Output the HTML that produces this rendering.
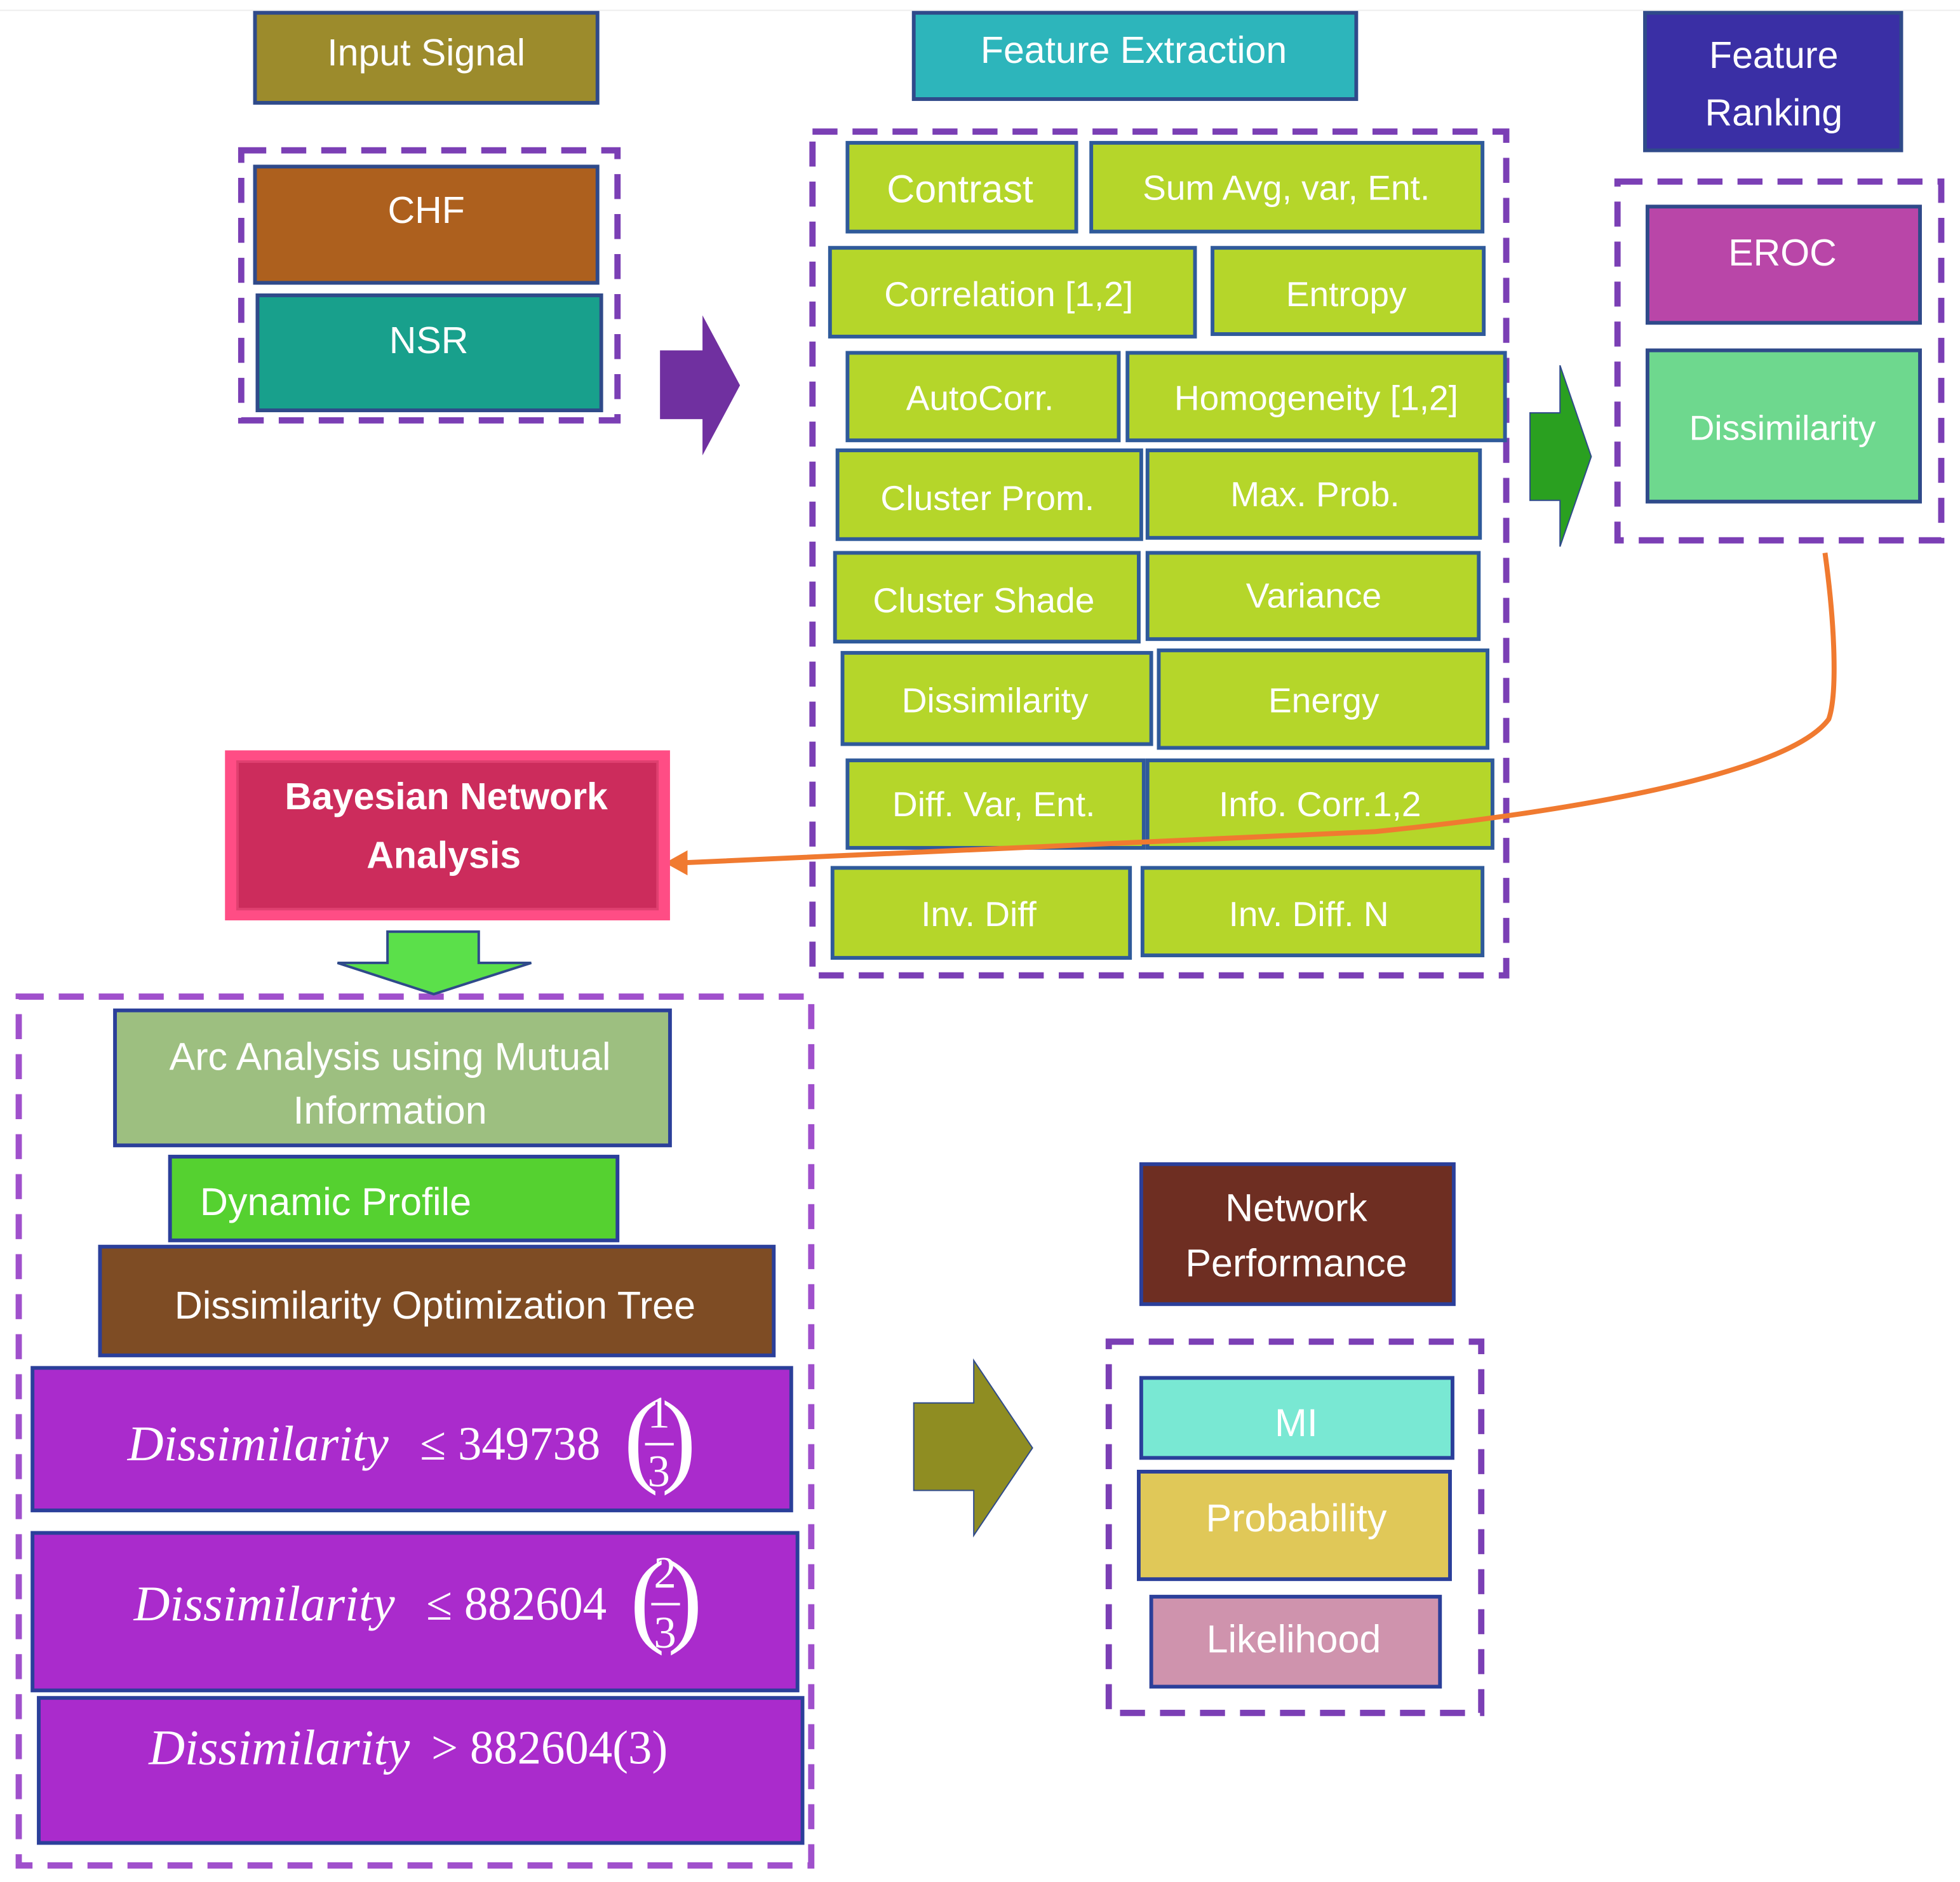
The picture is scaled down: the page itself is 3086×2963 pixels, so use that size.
<!DOCTYPE html>
<html><head><meta charset="utf-8"><style>
html,body{margin:0;padding:0;background:#fff}
svg{display:block}
text{font-family:"Liberation Sans",sans-serif;fill:#fff;text-anchor:middle;dominant-baseline:central}
.m{font-family:"Liberation Serif",serif;font-style:italic;font-size:40px;text-anchor:start}
.n{font-family:"Liberation Serif",serif;font-size:38px;text-anchor:start}
.f{font-family:"Liberation Serif",serif;font-size:36px}
.p{font-family:"Liberation Serif",serif;font-size:84px;font-weight:100}
</style></head><body>
<svg width="3086" height="2963" viewBox="0 0 1568 1505" xmlns="http://www.w3.org/2000/svg">
<line x1="0" y1="8" x2="1568" y2="8" stroke="#eee" stroke-width="1"/>
<g stroke="#2f4a8a" stroke-width="3">
<rect x="204" y="10" width="274" height="72" fill="#9c8b2c"/>
<rect x="204" y="133" width="274" height="93" fill="#ad601e"/>
<rect x="206" y="236" width="275" height="92" fill="#18a08c"/>
<rect x="731" y="10" width="354" height="69" fill="#2db5bb"/>
<rect x="1316" y="10" width="205" height="110" fill="#3a2fa5"/>
<rect x="1318" y="165" width="218" height="93" fill="#b946a8"/>
<rect x="1318" y="280" width="218" height="121" fill="#6ed88e"/>
</g>
<g fill="none" stroke="#7b3fb5" stroke-width="5" stroke-dasharray="20,12">
<rect x="193" y="120" width="301" height="216"/>
<rect x="650" y="105" width="555" height="675"/>
<rect x="1294" y="145" width="259" height="287"/>
<rect x="15" y="797" width="634" height="695" stroke="#a050cc"/>
<rect x="887" y="1073" width="298" height="297"/>
</g>
<g font-size="30">
<text x="341" y="42">Input Signal</text>
<text x="341" y="168">CHF</text>
<text x="343" y="272">NSR</text>
<text x="907" y="40">Feature Extraction</text>
<text x="1419" y="44">Feature</text>
<text x="1419" y="90">Ranking</text>
<text x="1426" y="202">EROC</text>
<text x="1426" y="342" font-size="28">Dissimilarity</text>
</g>
<polygon points="528,280 562,280 562,252 592,308 562,364 562,335 528,335" fill="#7030a0"/>
<polygon points="1224,330 1248,330 1248,292 1273,365 1248,437 1248,400 1224,400" fill="#2aa020" stroke="#2f4a8a" stroke-width="1"/>
<g stroke="#2f5a9a" stroke-width="3" fill="#b5d62a">
<rect x="678" y="114" width="183" height="71"/><rect x="873" y="114" width="313" height="71"/>
<rect x="664" y="198" width="292" height="71"/><rect x="970" y="198" width="217" height="69"/>
<rect x="678" y="282" width="217" height="70"/><rect x="902" y="282" width="302" height="70"/>
<rect x="670" y="360" width="243" height="71"/><rect x="918" y="360" width="266" height="70"/>
<rect x="668" y="442" width="243" height="71"/><rect x="918" y="442" width="265" height="69"/>
<rect x="674" y="522" width="247" height="73"/><rect x="927" y="520" width="263" height="78"/>
<rect x="678" y="608" width="237" height="70"/><rect x="918" y="608" width="276" height="70"/>
<rect x="666" y="694" width="238" height="72"/><rect x="914" y="694" width="272" height="70"/>
</g>
<g font-size="28">
<text x="768" y="151" font-size="31">Contrast</text><text x="1029" y="150">Sum Avg, var, Ent.</text>
<text x="807" y="235">Correlation [1,2]</text><text x="1077" y="235">Entropy</text>
<text x="784" y="318">AutoCorr.</text><text x="1053" y="318">Homogeneity [1,2]</text>
<text x="790" y="398">Cluster Prom.</text><text x="1052" y="395">Max. Prob.</text>
<text x="787" y="480">Cluster Shade</text><text x="1051" y="476">Variance</text>
<text x="796" y="560">Dissimilarity</text><text x="1059" y="560">Energy</text>
<text x="795" y="643">Diff. Var, Ent.</text><text x="1056" y="643">Info. Corr.1,2</text>
<text x="783" y="731">Inv. Diff</text><text x="1047" y="731">Inv. Diff. N</text>
</g>
<path d="M1460 442 C1468 500,1470 555,1463 575 C1430 620,1250 650,1100 665 L545 690" fill="none" stroke="#f07a30" stroke-width="4"/>
<polygon points="532,690 550,680 550,700" fill="#f07a30"/>
<rect x="180" y="600" width="356" height="136" fill="#ff4d85"/>
<rect x="190" y="609" width="336" height="118" fill="#cc2c5c" stroke="#e04070" stroke-width="2"/>
<text x="357" y="637" font-size="30" font-weight="bold">Bayesian Network</text>
<text x="355" y="684" font-size="30" font-weight="bold">Analysis</text>
<polygon points="310,745 383,745 383,770 425,770 347,795 270,770 310,770" fill="#5be04a" stroke="#2f4a8a" stroke-width="2"/>
<g stroke="#2b3f9a" stroke-width="3">
<rect x="92" y="808" width="444" height="108" fill="#9dbf80"/>
<rect x="136" y="925" width="358" height="67" fill="#55d130"/>
<rect x="80" y="997" width="539" height="87" fill="#7e4c24"/>
<rect x="26" y="1094" width="607" height="114" fill="#aa2bcc"/>
<rect x="26" y="1226" width="612" height="126" fill="#aa2bcc"/>
<rect x="31" y="1358" width="611" height="116" fill="#aa2bcc"/>
<rect x="913" y="931" width="250" height="112" fill="#6e2e22"/>
<rect x="913" y="1102" width="249" height="64" fill="#79e8d3"/>
<rect x="911" y="1177" width="249" height="86" fill="#e0c858"/>
<rect x="921" y="1277" width="231" height="72" fill="#cf93ad"/>
</g>
<g font-size="31">
<text x="312" y="845" fill="#f4f4ea">Arc Analysis using Mutual</text>
<text x="312" y="888" fill="#f4f4ea">Information</text>
<text x="160" y="961" style="text-anchor:start">Dynamic Profile</text>
<text x="348" y="1044">Dissimilarity Optimization Tree</text>
<text x="1037" y="966">Network</text>
<text x="1037" y="1010">Performance</text>
<text x="1037" y="1138">MI</text>
<text x="1037" y="1214">Probability</text>
<text x="1035" y="1311">Likelihood</text>
</g>
<text x="102" y="1155" class="m">Dissimilarity</text>
<text x="336" y="1155" class="n">≤ 349738</text>
<text x="513" y="1150" class="p">(</text>
<text x="527" y="1130" class="f">1</text><line x1="516" y1="1155" x2="539" y2="1155" stroke="#fff" stroke-width="2"/><text x="527" y="1177" class="f">3</text>
<text x="543" y="1150" class="p">)</text>
<text x="107" y="1283" class="m">Dissimilarity</text>
<text x="341" y="1283" class="n">≤ 882604</text>
<text x="518" y="1278" class="p">(</text>
<text x="532" y="1258" class="f">2</text><line x1="521" y1="1283" x2="544" y2="1283" stroke="#fff" stroke-width="2"/><text x="532" y="1306" class="f">3</text>
<text x="548" y="1278" class="p">)</text>
<text x="119" y="1398" class="m">Dissimilarity</text>
<text x="345" y="1398" class="n">&gt; 882604(3)</text>
<polygon points="731,1122 779,1122 779,1088 826,1158 779,1228 779,1192 731,1192" fill="#8f8d22" stroke="#2f4a8a" stroke-width="1"/>
</svg>
</body></html>
